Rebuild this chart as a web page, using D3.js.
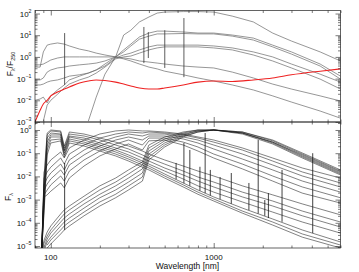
<!DOCTYPE html>
<html><head><meta charset="utf-8">
<script src="https://cdn.jsdelivr.net/npm/d3@7"></script>
<style>
body{margin:0;background:#fff}
svg{display:block}
text{font-family:"Liberation Sans",Arial,Helvetica,sans-serif;fill:#111}
</style>
</head><body>
<svg id="chart" width="359" height="272"></svg>
<script>
// ---------- DATA ----------
// Upper panel: F_lambda / F_250
const upperWave = [80, 86, 90, 95, 100, 110, 121, 130, 150, 170, 190, 215, 250, 280, 310, 350, 400, 450, 500, 650, 800, 1000, 1300, 1750, 2300, 3000, 4500, 6000];
const upperCool  = [null, null, null, null, null, null, null, null, null, 0.0011, 0.014, 0.16, 1.0, 10.2, 17, 41, 69, 105, 117, 123, 123, 117, 76, 41, 12.6, 5.4, 1.7, 0.65];
const upperHot   = [0.34, 0.34, 1.7, 3.5, 3.9, 4.4, 3.9, 3.2, 2.3, 1.9, 1.5, 1.23, 1.0, 0.81, 0.65, 0.47, 0.34, 0.28, 0.22, 0.15, 0.107, 0.078, 0.051, 0.030, 0.016, 0.0083, 0.0032, 0.0015];
const upperFlat  = [0.43, 0.43, 0.47, 0.58, 0.72, 0.89, 1.0, 1.0, 1.0, 1.0, 1.0, 1.0, 1.0, 0.89, 0.81, 0.65, 0.58, 0.52, 0.47, 0.38, 0.34, 0.31, 0.20, 0.107, 0.056, 0.033, 0.016, 0.0093];
const upperGalA  = [0.087, 0.087, 0.107, 0.20, 0.25, 0.31, 0.34, 0.38, 0.43, 0.47, 0.52, 0.65, 1.0, 2.1, 3.9, 8.3, 12.6, 15.5, 15.5, 14.1, 12.6, 12.6, 10.2, 7.4, 3.5, 1.7, 0.47, 0.13];
const upperGalB  = [0.051, 0.051, 0.056, 0.069, 0.078, 0.087, 0.107, 0.13, 0.15, 0.18, 0.25, 0.47, 1.0, 1.7, 3.2, 6.6, 9.1, 11.5, 11.5, 12.0, 11.5, 11.5, 9.1, 6.0, 2.9, 1.35, 0.38, 0.095];
const upperGalC  = [0.010, 0.0115, 0.014, 0.0076, 0.016, 0.030, 0.051, 0.087, 0.13, 0.18, 0.25, 0.38, 0.89, 1.23, 1.5, 2.1, 2.9, 3.5, 3.5, 3.5, 3.5, 3.2, 2.6, 1.7, 1.0, 0.47, 0.16, 0.069];
const upperGalD  = [null, null, 0.0011, 0.006, 0.010, 0.019, 0.037, 0.056, 0.087, 0.117, 0.18, 0.34, 0.81, 1.0, 1.1, 1.5, 2.1, 2.6, 2.9, 2.9, 2.9, 2.6, 2.1, 1.23, 0.65, 0.31, 0.095, 0.033];
const upperRed   = [0.001, 0.0035, 0.0068, 0.010, 0.016, 0.024, 0.033, 0.041, 0.063, 0.078, 0.087, 0.082, 0.069, 0.056, 0.046, 0.037, 0.033, 0.033, 0.037, 0.051, 0.069, 0.078, 0.074, 0.087, 0.107, 0.15, 0.22, 0.28];
const upperLineWave   = [121.6, 372.7, 396.8, 500.7, 656.3];
const upperLineTop    = [12.6, 24, 14, 17, 62];
const upperLineBottom = [0.051, 0.52, 0.89, 0.31, 0.117];

// Lower panel: F_lambda (peak normalised)
const lowerWave = [80, 88, 91, 95, 100, 115, 121, 130, 160, 200, 250, 300, 365, 400, 500, 650, 800, 1000, 1500, 2300, 3500, 6000];
const lowerH1 = [null, 6.7e-6, 0.0115, 0.74, 1.0, 0.91, 0.204, 0.82, 0.67, 0.45, 0.30, 0.204, 0.124, 0.092, 0.051, 0.028, 0.017, 0.0104, 0.0039, 0.0016, 0.00065, 0.00022];
const lowerH2 = [null, 6.7e-6, 0.0057, 0.61, 0.91, 0.82, 0.168, 0.67, 0.55, 0.37, 0.225, 0.152, 0.084, 0.062, 0.034, 0.017, 0.0094, 0.0057, 0.0021, 0.00087, 0.00032, 0.000108];
const lowerH3 = [null, 6.7e-6, 0.0026, 0.45, 0.74, 0.67, 0.137, 0.55, 0.45, 0.275, 0.168, 0.113, 0.062, 0.046, 0.023, 0.0115, 0.0063, 0.0035, 0.0013, 0.00053, 0.0002, 0.000066];
const lowerH4 = [null, 6.7e-6, 0.0013, 0.30, 0.61, 0.61, 0.124, 0.50, 0.37, 0.225, 0.137, 0.084, 0.046, 0.034, 0.017, 0.0077, 0.0039, 0.0021, 0.00079, 0.00029, 0.000108, 0.000036];
const lowerH5 = [null, 6.7e-6, 0.00071, 0.204, 0.50, 0.50, 0.102, 0.41, 0.30, 0.185, 0.113, 0.069, 0.038, 0.028, 0.0127, 0.0052, 0.0026, 0.0013, 0.00043, 0.000146, 0.000049, 0.0000149];
const lowerH6 = [null, 6.7e-6, 0.00043, 0.137, 0.37, 0.41, 0.084, 0.34, 0.25, 0.152, 0.092, 0.056, 0.031, 0.023, 0.0104, 0.0043, 0.0021, 0.00106, 0.00032, 0.000108, 0.000033, 0.000011];
const lowerH7 = [null, 6.7e-6, 0.00029, 0.084, 0.275, 0.34, 0.069, 0.275, 0.204, 0.124, 0.076, 0.046, 0.025, 0.019, 0.0085, 0.0035, 0.0017, 0.00087, 0.00026, 0.00008, 0.000024, 0.0000082];
const lowerB1 = [null, 6.7e-6, 0.0155, 0.031, 0.051, 0.113, 0.062, 0.168, 0.37, 0.67, 0.91, 1.0, 0.91, 0.91, 0.82, 0.67, 0.50, 0.37, 0.168, 0.062, 0.023, 0.0085];
const lowerB2 = [null, 6.7e-6, 0.0085, 0.0155, 0.025, 0.062, 0.034, 0.092, 0.225, 0.45, 0.67, 0.82, 0.74, 0.82, 0.74, 0.61, 0.45, 0.30, 0.137, 0.046, 0.0155, 0.0052];
const lowerB3 = [null, 6.7e-6, 0.0043, 0.0085, 0.014, 0.034, 0.019, 0.051, 0.137, 0.30, 0.50, 0.67, 0.55, 0.67, 0.67, 0.50, 0.37, 0.225, 0.092, 0.031, 0.0104, 0.0035];
const lowerB4 = [null, 6.7e-6, 0.0026, 0.0047, 0.0077, 0.019, 0.0115, 0.031, 0.084, 0.204, 0.37, 0.50, 0.37, 0.55, 0.55, 0.41, 0.275, 0.152, 0.056, 0.019, 0.0063, 0.0021];
const lowerB5 = [null, 6.7e-6, 0.0016, 0.0026, 0.0043, 0.0104, 0.0063, 0.017, 0.051, 0.124, 0.25, 0.37, 0.225, 0.45, 0.45, 0.30, 0.185, 0.092, 0.034, 0.0104, 0.0035, 0.0012];
const lowerB6 = [null, 6.7e-6, 0.0013, 0.0016, 0.0023, 0.0052, 0.0032, 0.0085, 0.028, 0.076, 0.152, 0.25, 0.137, 0.34, 0.37, 0.225, 0.124, 0.062, 0.021, 0.0063, 0.0019, 0.00071];
const lowerA1 = [null, 6.7e-6, 0.000018, 0.00004, 0.000073, 0.00024, 0.00036, 0.00053, 0.0014, 0.0039, 0.0085, 0.019, 0.042, 0.225, 0.50, 0.82, 1.0, 1.0, 0.82, 0.37, 0.102, 0.019];
const lowerA2 = [null, 6.7e-6, 0.0000135, 0.000027, 0.000049, 0.00016, 0.00024, 0.00036, 0.00096, 0.0026, 0.0057, 0.0127, 0.031, 0.168, 0.41, 0.74, 1.0, 1.0, 0.82, 0.34, 0.092, 0.017];
const lowerA3 = [null, null, 0.0000091, 0.00002, 0.000036, 0.000108, 0.00016, 0.00024, 0.00065, 0.0017, 0.0039, 0.0085, 0.021, 0.124, 0.34, 0.67, 0.91, 1.0, 0.74, 0.30, 0.084, 0.0155];
const lowerA4 = [null, null, 6.7e-6, 0.0000149, 0.000024, 0.000073, 0.000108, 0.00016, 0.00043, 0.0012, 0.0026, 0.0057, 0.014, 0.092, 0.275, 0.61, 0.91, 1.0, 0.74, 0.30, 0.076, 0.014];
const lowerA5 = [null, null, null, 0.000011, 0.000018, 0.000049, 0.000073, 0.000108, 0.00029, 0.00079, 0.0017, 0.0039, 0.0094, 0.069, 0.225, 0.55, 0.82, 1.0, 0.74, 0.275, 0.069, 0.0127];
const lowerA6 = [null, null, null, 0.0000082, 0.0000122, 0.000033, 0.000049, 0.000073, 0.0002, 0.00053, 0.0012, 0.0026, 0.0063, 0.051, 0.185, 0.50, 0.82, 1.0, 0.67, 0.25, 0.062, 0.0115];
const lowerLineWave   = [121.6, 587.6, 656.3, 713.6, 823, 886, 953.1, 1094, 1282, 1644, 1875, 2058, 2166, 2626, 4051];
const lowerLineTop    = [0.038, 0.038, 0.275, 0.138, 0.026, 0.74, 0.019, 0.0094, 0.014, 0.0052, 0.37, 0.00096, 0.0019, 0.019, 0.10];
const lowerLineBottom = [0.000049, 0.0075, 0.0051, 0.0039, 0.0024, 0.0019, 0.0015, 0.00103, 0.00066, 0.00035, 0.00025, 0.0002, 0.00016, 0.00011, 0.000036];

// tick labels
const xMajorTicks = [100, 1000];
const xTickLabels = ["100", "1000"];
const upperExponents = [2, 1, 0, -1, -2, -3];
const lowerExponents = [0, -1, -2, -3, -4, -5];

// ---------- DRAWING ----------
const svg = d3.select("#chart");
const L = 35, R = 340.5, uTop = 10.5, mid = 122, lBot = 248;

const x = d3.scaleLog().domain([80, 6000]).range([L, R]);
const yU = d3.scaleLog().domain([1e-3, 138]).range([mid, uTop]);
const yL = d3.scaleLog().domain([8.2e-6, 2.21]).range([lBot, mid]);

const defs = svg.append("defs");
defs.append("clipPath").attr("id", "clipU").append("rect")
  .attr("x", L).attr("y", uTop).attr("width", R - L).attr("height", mid - uTop);
defs.append("clipPath").attr("id", "clipL").append("rect")
  .attr("x", L).attr("y", mid).attr("width", R - L).attr("height", lBot - mid);

function seriesPoints(waves, vals) {
  return waves.map((w, i) => [w, vals[i]]);
}

function drawCurves(y, clipId, waves, list, color, width, curve) {
  const line = d3.line()
    .defined(d => d[1] != null)
    .x(d => x(d[0])).y(d => y(d[1]))
    .curve(curve || d3.curveLinear);
  const g = svg.append("g").attr("clip-path", `url(#${clipId})`);
  list.forEach(vals => {
    g.append("path").attr("d", line(seriesPoints(waves, vals)))
      .attr("fill", "none").attr("stroke", color).attr("stroke-width", width)
      .attr("stroke-linejoin", "round");
  });
  return g;
}

function drawSpikes(y, clipId, waves, tops, bottoms, color, width) {
  const g = svg.append("g").attr("clip-path", `url(#${clipId})`);
  g.selectAll("line").data(waves).join("line")
    .attr("x1", d => x(d)).attr("x2", d => x(d))
    .attr("y1", (d, i) => y(tops[i])).attr("y2", (d, i) => y(bottoms[i]))
    .attr("stroke", color).attr("stroke-width", width);
}

// upper panel curves
const upperGray = [upperCool, upperHot, upperFlat, upperGalA, upperGalB, upperGalC, upperGalD];
drawCurves(yU, "clipU", upperWave, upperGray, "#6a6a6a", 0.7);
drawSpikes(yU, "clipU", upperLineWave, upperLineTop, upperLineBottom, "#333", 0.8);
drawCurves(yU, "clipU", upperWave, [upperRed], "#ee2222", 1.1, d3.curveMonotoneX);

// lower panel curves
const lowerAll = [lowerH1, lowerH2, lowerH3, lowerH4, lowerH5, lowerH6, lowerH7,
  lowerB1, lowerB2, lowerB3, lowerB4, lowerB5, lowerB6,
  lowerA1, lowerA2, lowerA3, lowerA4, lowerA5, lowerA6];
drawCurves(yL, "clipL", lowerWave, lowerAll, "#1a1a1a", 0.55);
drawSpikes(yL, "clipL", lowerLineWave, lowerLineTop, lowerLineBottom, "#111", 0.8);

// ---------- AXES ----------
const axisColor = "#222";
function minorLog(lo, hi) {
  const out = [];
  for (let e = Math.floor(Math.log10(lo)); e <= Math.ceil(Math.log10(hi)); e++) {
    for (let m = 2; m <= 9; m++) {
      const v = m * Math.pow(10, e);
      if (v >= lo && v <= hi) out.push(v);
    }
  }
  return out;
}
function styleAxis(g) {
  g.select(".domain").remove();
  g.selectAll("line").attr("stroke", axisColor).attr("stroke-width", 0.6);
  g.selectAll("text").remove();
}
const xMinor = minorLog(80, 6000).filter(v => xMajorTicks.indexOf(v) < 0);

function xAxes(yPos, dir) {
  const mk = dir === "top" ? d3.axisTop : d3.axisBottom;
  svg.append("g").attr("transform", `translate(0,${yPos})`)
    .call(mk(x).tickValues(xMajorTicks).tickSize(-5).tickFormat("")).call(styleAxis);
  svg.append("g").attr("transform", `translate(0,${yPos})`)
    .call(mk(x).tickValues(xMinor).tickSize(-2.5).tickFormat("")).call(styleAxis);
}
xAxes(uTop, "top");
xAxes(mid, "bottom");
xAxes(mid, "top");
xAxes(lBot, "bottom");

function yAxes(y, lo, hi, exps) {
  const majors = exps.map(e => Math.pow(10, e));
  const minors = minorLog(lo, hi);
  [[d3.axisLeft, L], [d3.axisRight, R]].forEach(([mk, xp]) => {
    svg.append("g").attr("transform", `translate(${xp},0)`)
      .call(mk(y).tickValues(majors).tickSize(-5).tickFormat("")).call(styleAxis);
    svg.append("g").attr("transform", `translate(${xp},0)`)
      .call(mk(y).tickValues(minors).tickSize(-2.5).tickFormat("")).call(styleAxis);
  });
  exps.forEach(e => {
    const t = svg.append("text").attr("x", 31.5).attr("y", y(Math.pow(10, e)) + 3)
      .attr("text-anchor", "end").attr("font-size", 8);
    t.append("tspan").text("10");
    t.append("tspan").attr("font-size", 5.2).attr("dy", -3.6).text(String(e).replace("-", "\u2212"));
  });
}
yAxes(yU, 1e-3, 138, upperExponents);
yAxes(yL, 8.2e-6, 2.21, lowerExponents);

// frames
svg.append("rect").attr("x", L).attr("y", uTop).attr("width", R - L).attr("height", mid - uTop)
  .attr("fill", "none").attr("stroke", axisColor).attr("stroke-width", 0.7);
svg.append("rect").attr("x", L).attr("y", mid).attr("width", R - L).attr("height", lBot - mid)
  .attr("fill", "none").attr("stroke", axisColor).attr("stroke-width", 0.7);

// x tick labels
xMajorTicks.forEach((v, i) => {
  svg.append("text").attr("x", x(v)).attr("y", 260).attr("text-anchor", "middle")
    .attr("font-size", 8).text(xTickLabels[i]);
});
svg.append("text").attr("x", 187.5).attr("y", 268.5).attr("text-anchor", "middle")
  .attr("font-size", 8.5).text("Wavelength [nm]");

// y titles
const t1 = svg.append("text").attr("transform", "translate(13,64) rotate(-90)")
  .attr("text-anchor", "middle").attr("font-size", 8.5);
t1.append("tspan").text("F");
t1.append("tspan").attr("font-size", 5.5).attr("dy", 2).text("\u03bb");
t1.append("tspan").attr("dy", -2).text("/F");
t1.append("tspan").attr("font-size", 5.5).attr("dy", 2).text("250");

const t2 = svg.append("text").attr("transform", "translate(11,197) rotate(-90)")
  .attr("text-anchor", "middle").attr("font-size", 8.5);
t2.append("tspan").text("F");
t2.append("tspan").attr("font-size", 5.5).attr("dy", 2).text("\u03bb");
</script>
</body></html>
